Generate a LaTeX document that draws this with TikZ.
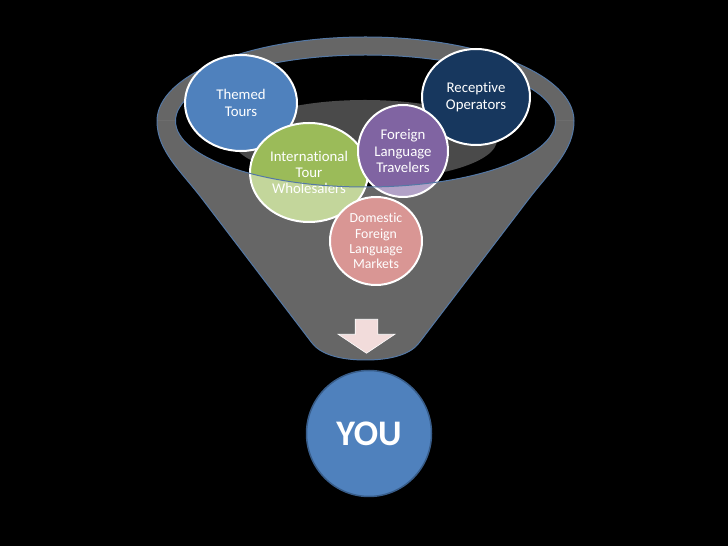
\documentclass[tikz,border=0pt]{standalone}
\usepackage{fontspec}
\setmainfont{Carlito}[Ligatures={NoCommon}]
\usetikzlibrary{shapes.geometric, positioning}
\definecolor{themeblue}{RGB}{79, 129, 189}
\definecolor{deepnavy}{RGB}{23, 55, 94}
\definecolor{leafgreen}{RGB}{155, 187, 89}
\definecolor{plumpurple}{RGB}{128, 100, 162}
\definecolor{brickred}{RGB}{192, 80, 77}
\definecolor{rimgray}{RGB}{102, 102, 102}
\definecolor{depthgray}{RGB}{74, 74, 74}
\definecolor{edgeblue}{RGB}{84, 120, 165}
\definecolor{youborder}{RGB}{56, 93, 138}
\definecolor{arrowpink}{RGB}{242, 220, 219}
\tikzset{
  bubble/.style={ellipse, draw=white, line width=2pt, inner sep=0pt, align=center, text=white, font=\fontsize{14.8}{16.2}\selectfont},
  funneledge/.style={draw=edgeblue, line width=1pt},
  frontface/.style={fill=white, fill opacity=0.4}
}

\begin{document}
\begin{tikzpicture}[x=1pt, y=1pt]
    \fill[black] (0,0) rectangle (728,546);

    % back of the funnel
    \fill[rimgray] (157,425) arc[start angle=180, end angle=0, x radius=208.5pt, y radius=84pt]
        -- (555.5,425) arc[start angle=0, end angle=180, x radius=190pt, y radius=66pt] -- cycle;
    \draw[funneledge] (157,425) arc[start angle=180, end angle=0, x radius=208.5pt, y radius=84pt];
    \draw[funneledge] (555.5,425) arc[start angle=0, end angle=180, x radius=190pt, y radius=66pt];
    \fill[depthgray] (365,406) ellipse[x radius=132pt, y radius=40pt];

    \node (themed) [bubble, fill=themeblue, minimum width=112pt, minimum height=96pt, font=\fontsize{14.8}{17.6}\selectfont] at (241,443) {Themed\\Tours};
    \node (receptive) [bubble, fill=deepnavy, minimum width=108pt, minimum height=96pt, font=\fontsize{14.8}{16.8}\selectfont] at (476,449) {Receptive\\Operators};
    \node (wholesalers) [bubble, fill=leafgreen, minimum width=118pt, minimum height=99pt] at (309,373.5) {International\\Tour\\Wholesalers};
    \node (travelers) [bubble, fill=plumpurple, minimum width=90pt, minimum height=92pt] at (403,395) {Foreign\\Language\\Travelers};
    \node (domestic) [bubble, fill=brickred, minimum width=92pt, minimum height=88pt, font=\fontsize{13.8}{15.3}\selectfont] at (376,305) {Domestic\\Foreign\\Language\\Markets};

    % front of the funnel
    \fill[frontface] (157,425) .. controls (157,395) and (181,375) .. (203,346) -- (312,203)
        .. controls (320.7,191.6) and (340,186) .. (365.5,186) .. controls (391,186) and (410.3,191.6) .. (419,203)
        -- (528,346) .. controls (550,375) and (574,395) .. (574,425)
        -- (555.5,425) arc[start angle=0, end angle=-180, x radius=190pt, y radius=66pt] -- cycle;
    \draw[funneledge] (157,425) .. controls (157,395) and (181,375) .. (203,346) -- (312,203)
        .. controls (320.7,191.6) and (340,186) .. (365.5,186) .. controls (391,186) and (410.3,191.6) .. (419,203)
        -- (528,346) .. controls (550,375) and (574,395) .. (574,425);
    \draw[funneledge] (555.5,425) arc[start angle=0, end angle=-180, x radius=190pt, y radius=66pt];

    \filldraw[fill=arrowpink, draw=white, line width=0.6pt] (355.2,226.7) -- (377.8,226.7) -- (377.8,211.7)
        -- (394.8,211.7) -- (366.5,192.7) -- (338.2,211.7) -- (355.2,211.7) -- cycle;

    \node (you) [ellipse, fill=themeblue, draw=youborder, line width=1.5pt, inner sep=0pt, minimum width=125pt, minimum height=126pt, text=white, font=\fontsize{36}{40}\selectfont\bfseries] at (369,112.5) {YOU};
\end{tikzpicture}
\end{document}
